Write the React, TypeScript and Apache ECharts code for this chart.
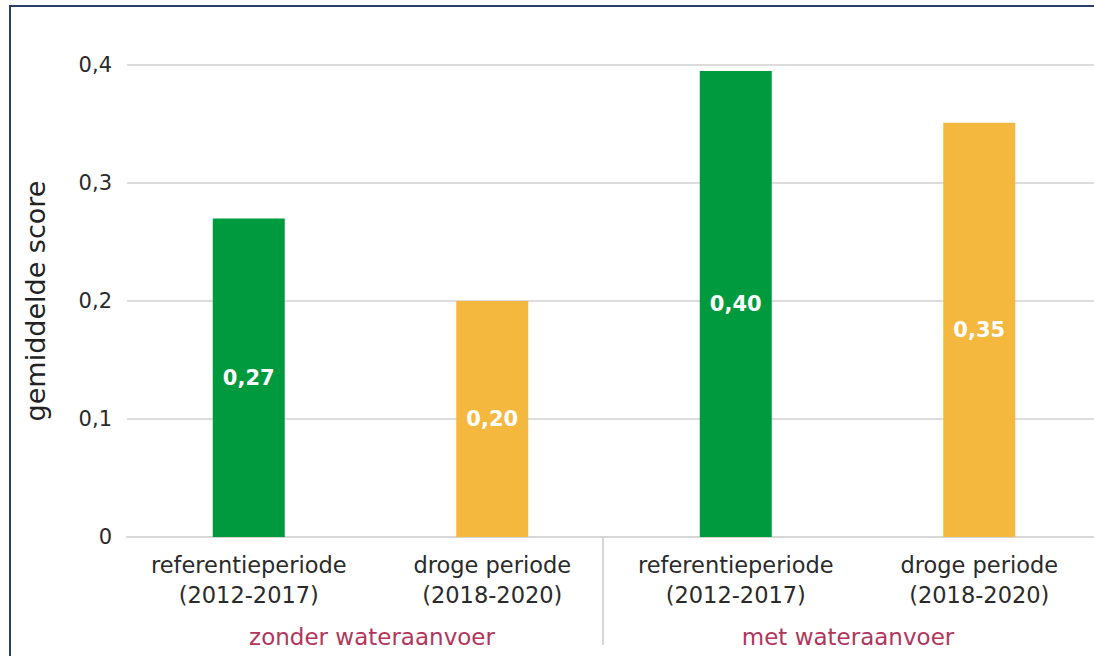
import React, { useEffect, useRef } from "react";
import * as echarts from "echarts";

const categories = [
  "referentieperiode\n(2012-2017)",
  "droge periode\n(2018-2020)",
  "referentieperiode\n(2012-2017)",
  "droge periode\n(2018-2020)",
];
const values = [0.27, 0.2, 0.395, 0.351];
const valueLabels = ["0,27", "0,20", "0,40", "0,35"];
const barColors = ["#009a3e", "#f5b83f", "#009a3e", "#f5b83f"];
const groupLabels = ["zonder wateraanvoer", "met wateraanvoer"];
const yAxisName = "gemiddelde score";

const FONT = "'DejaVu Sans', sans-serif";

export default function App() {
  const ref = useRef<HTMLDivElement>(null);
  useEffect(() => {
    if (!ref.current) return;
    const chart = echarts.init(ref.current, null, { renderer: "svg" });
    chart.setOption({
      animation: false,
      backgroundColor: "#ffffff",
      grid: {
        left: 127,
        width: 974,
        top: 65,
        bottom: 119,
        containLabel: false,
        outerBoundsMode: "none",
      },
      xAxis: {
        type: "category",
        data: categories,
        axisLine: { show: true, lineStyle: { color: "#d6d6d6", width: 2 } },
        axisTick: { show: false },
        axisLabel: {
          fontFamily: FONT,
          fontSize: 22.5,
          color: "#2a2a2a",
          lineHeight: 30,
          margin: 13,
          interval: 0,
        },
      },
      yAxis: {
        type: "value",
        min: 0,
        max: 0.4,
        interval: 0.1,
        name: yAxisName,
        nameLocation: "middle",
        nameGap: 78,
        nameTextStyle: { fontFamily: FONT, fontSize: 27, color: "#222" },
        axisLine: { show: false },
        axisTick: { show: false },
        splitLine: { lineStyle: { color: "#dcdcdc", width: 2 } },
        axisLabel: {
          fontFamily: FONT,
          fontSize: 21,
          color: "#2a2a2a",
          margin: 15,
          formatter: (v: number) => (v === 0 ? "0" : v.toFixed(1).replace(".", ",")),
        },
      },
      series: [
        {
          type: "bar",
          barWidth: 72,
          data: values.map((v, i) => ({
            value: v,
            itemStyle: { color: barColors[i] },
            label: { formatter: valueLabels[i] },
          })),
          label: {
            show: true,
            position: "inside",
            color: "#ffffff",
            fontFamily: FONT,
            fontSize: 21,
            fontWeight: "bold",
          },
        },
      ],
      graphic: [
        {
          type: "rect",
          shape: { x: 10, y: 6, width: 1200, height: 800 },
          style: { fill: "none", stroke: "#2c3f68", lineWidth: 2 },
          silent: true,
        },
        {
          type: "line",
          shape: { x1: 603, y1: 538, x2: 603, y2: 645 },
          style: { stroke: "#d6d6d6", lineWidth: 2 },
        },
        {
          type: "text",
          x: 372,
          y: 637,
          style: {
            text: groupLabels[0],
            fontFamily: FONT,
            fontSize: 23,
            fill: "#b2355b",
            align: "center",
            verticalAlign: "middle",
          },
        },
        {
          type: "text",
          x: 848,
          y: 637,
          style: {
            text: groupLabels[1],
            fontFamily: FONT,
            fontSize: 23,
            fill: "#b2355b",
            align: "center",
            verticalAlign: "middle",
          },
        },
      ],
    });
    return () => chart.dispose();
  }, []);
  return (
    <div
      ref={ref}
      style={{ position: "absolute", left: 0, top: 0, width: 1094, height: 656 }}
    />
  );
}
